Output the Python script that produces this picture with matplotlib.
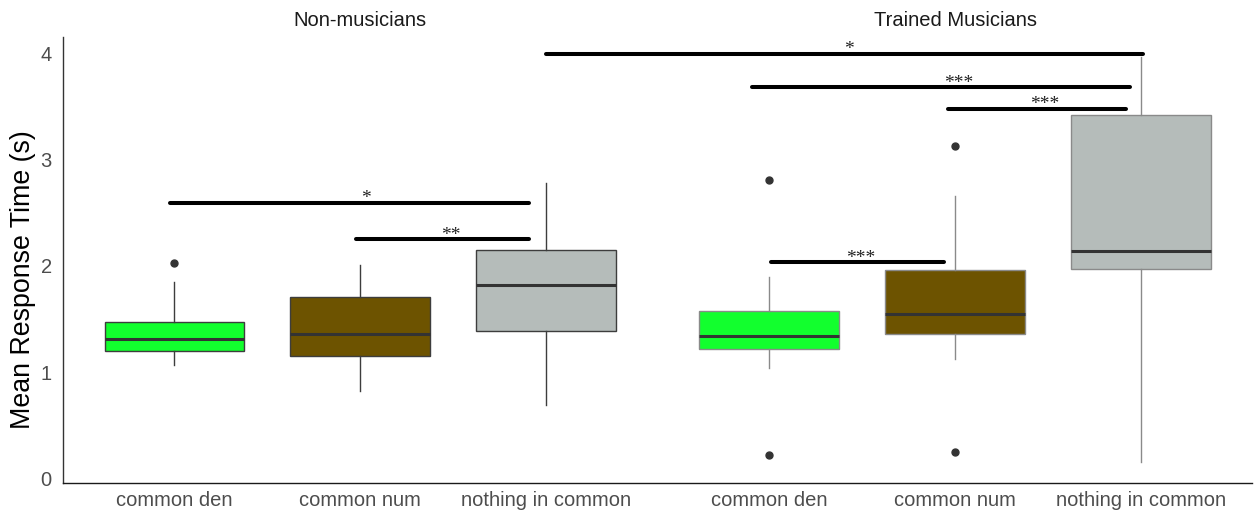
import matplotlib
matplotlib.use("Agg")
import matplotlib.pyplot as plt
import matplotlib.transforms as mtransforms

plt.rcParams['font.family'] = ['Liberation Sans', 'DejaVu Sans']

# ---- data ----
categories = ['common den', 'common num', 'nothing in common']
groups = ['Non-musicians', 'Trained Musicians']
colors = ['#12FF2E', '#6D5300', '#B5BCBA']

# Non-musicians
non_med = [1.31, 1.36, 1.82]
non_q1 = [1.20, 1.155, 1.39]
non_q3 = [1.47, 1.71, 2.15]
non_lo = [1.07, 0.825, 0.695]
non_hi = [1.85, 2.005, 2.775]
non_out = [[2.03], [], []]

# Trained musicians
mus_med = [1.346, 1.544, 2.143]
mus_q1 = [1.221, 1.362, 1.970]
mus_q3 = [1.572, 1.964, 3.416]
mus_lo = [1.038, 1.126, 0.153]
mus_hi = [1.895, 2.657, 3.965]
mus_out = [[2.811, 0.219], [3.131, 0.251], []]

# significance bars
sig_x0 = [-0.025, 0.98, 2.0, 3.11, 4.16, 3.21]
sig_x1 = [1.91, 1.91, 5.21, 5.14, 5.12, 4.14]
sig_y = [2.595, 2.249, 3.99, 3.677, 3.473, 2.033]
sig_tx = [1.03, 1.49, 3.63, 4.22, 4.68, 3.69]
sig_lab = ['*', '**', '*', '***', '***', '***']

# ---- layout ----
group_offset = 3.2   # each facet is 3 categories + 0.6 padding on both sides
box_width = 0.75

fig = plt.figure(figsize=(12.55, 5.16), dpi=100)
ax = fig.add_axes([0.050, 0.064, 0.948, 0.864])


def make_stats(med, q1, q3, lo, hi, out):
    return [dict(med=med[i], q1=q1[i], q3=q3[i], whislo=lo[i], whishi=hi[i],
                 fliers=out[i]) for i in range(len(med))]


all_stats = [make_stats(non_med, non_q1, non_q3, non_lo, non_hi, non_out),
             make_stats(mus_med, mus_q1, mus_q3, mus_lo, mus_hi, mus_out)]
edge_cols = ['#3d3d3d', '#8a8a8a']

tick_pos = []
for g, stats in enumerate(all_stats):
    pos = [g * group_offset + i for i in range(len(categories))]
    tick_pos += pos
    bp = ax.bxp(stats, positions=pos, widths=box_width, patch_artist=True,
                showcaps=False,
                boxprops=dict(edgecolor=edge_cols[g], linewidth=1.0),
                whiskerprops=dict(color=edge_cols[g], linewidth=1.0),
                medianprops=dict(color='#333333', linewidth=2.2),
                flierprops=dict(marker='o', markerfacecolor='#333333',
                                markeredgecolor='#333333', markersize=5))
    for patch, c in zip(bp['boxes'], colors):
        patch.set_facecolor(c)
    # facet title
    trans = mtransforms.blended_transform_factory(ax.transData, ax.transAxes)
    ax.text(g * group_offset + 1, 1.038, groups[g], transform=trans,
            ha='center', va='center', fontsize=14.5, color='#1A1A1A')

# significance brackets
for x0, x1, y, tx, lab in zip(sig_x0, sig_x1, sig_y, sig_tx, sig_lab):
    ax.plot([x0, x1], [y, y], color='black', linewidth=2.9,
            solid_capstyle='round')
    ax.annotate(lab, (tx, y), xytext=(0, -3), textcoords='offset points',
                ha='center', va='bottom', fontsize=14, color='#222222',
                family='Liberation Serif')

ax.set_xlim(-0.6, group_offset * 2 - 0.6)
ax.set_ylim(-0.04, 4.15)
ax.set_xticks(tick_pos)
ax.set_xticklabels(categories * 2, fontsize=14.5, color='#4D4D4D')
ax.set_yticks([0, 1, 2, 3, 4])
ax.set_yticklabels(['0', '1', '2', '3', '4'], fontsize=14.5, color='#4D4D4D')
ax.tick_params(axis='y', length=0, pad=8)
ax.tick_params(axis='x', length=0, pad=6)
ax.set_ylabel('Mean Response Time (s)', fontsize=19.3, color='black')
ax.yaxis.set_label_coords(-0.0227, 0.457)

for s in ['top', 'right']:
    ax.spines[s].set_visible(False)
ax.spines['left'].set_color('#333333')
ax.spines['bottom'].set_color('#1A1A1A')
ax.spines['left'].set_linewidth(1.0)
ax.spines['bottom'].set_linewidth(1.0)

fig.savefig('out.png', dpi=100)
